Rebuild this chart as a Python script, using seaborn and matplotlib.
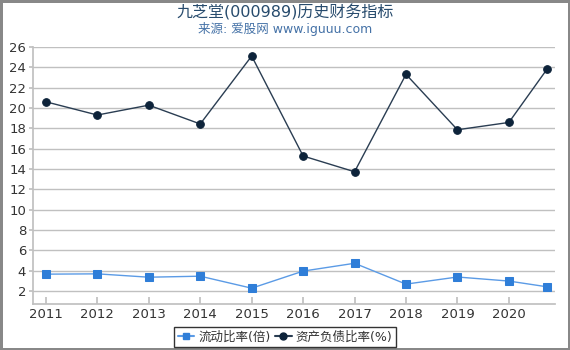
import matplotlib
matplotlib.use("Agg")
import matplotlib.pyplot as plt
import seaborn as sns
import pandas as pd
from matplotlib.lines import Line2D

years = [2011, 2012, 2013, 2014, 2015, 2016, 2017, 2018, 2019, 2020, 2020.75]
tick_years = [2011, 2012, 2013, 2014, 2015, 2016, 2017, 2018, 2019, 2020]
current_ratio = [3.65, 3.68, 3.35, 3.45, 2.27, 3.95, 4.72, 2.67, 3.37, 2.97, 2.4]
debt_ratio = [20.6, 19.3, 20.27, 18.42, 25.1, 15.27, 13.72, 23.3, 17.85, 18.57, 23.87]
y_ticks = [2, 4, 6, 8, 10, 12, 14, 16, 18, 20, 22, 24, 26]
name_cr = "流动比率(倍)"
name_dr = "资产负债比率(%)"
title = "九芝堂(000989)历史财务指标"
subtitle = "来源: 爱股网 www.iguuu.com"

sns.set_theme(style="white")
plt.rcParams['font.family'] = ['DejaVu Sans', 'Noto Sans CJK SC']

df = pd.DataFrame({
    "x": years * 2,
    "y": current_ratio + debt_ratio,
    "series": [name_cr] * len(years) + [name_dr] * len(years),
})

c_cr = "#2f7ed8"
c_dr = "#0d233a"

fig = plt.figure(figsize=(5.7, 3.5), dpi=100)
ax = fig.add_axes([0.058, 0.131, 0.916, 0.735])

for name, col, mk, lc, ms in [(name_cr, c_cr, "s", "#5b9be6", 5.5), (name_dr, c_dr, "o", "#2a3d52", 5.5)]:
    sub = df[df.series == name]
    sns.lineplot(data=sub, x="x", y="y", ax=ax, color=lc, linewidth=1.0,
                 marker=mk, markersize=ms, markerfacecolor=col,
                 markeredgecolor=col, legend=False)

ax.set_xlim(2010.75, 2020.9)
ax.set_ylim(0.7, 26)
ax.set_xticks(tick_years)
ax.set_xticklabels([str(y) for y in tick_years])
ax.set_yticks(y_ticks)
ax.set_xlabel("")
ax.set_ylabel("")
ax.grid(axis="y", color="#c0c0c0", linewidth=1)
ax.grid(axis="x", visible=False)
for s in ["top", "right"]:
    ax.spines[s].set_visible(False)
ax.spines["left"].set_color("#c0c0c0")
ax.spines["bottom"].set_color("#c0c0c0")
ax.tick_params(axis="x", direction="in", length=5, color="#c0c0c0",
               labelsize=9.5, labelcolor="#333333", pad=3, bottom=True)
ax.tick_params(axis="y", direction="out", length=3, color="#c0c0c0",
               labelsize=9.5, labelcolor="#333333", pad=2, left=True)

fig.text(0.5, 0.965, title, ha="center", va="center", fontsize=11.5, color="#274b6d")
fig.text(0.5, 0.918, subtitle, ha="center", va="center", fontsize=9, color="#4572a7")

handles = [
    Line2D([0], [0], color="#5b9be6", marker="s", markerfacecolor=c_cr,
           markeredgecolor=c_cr, markersize=5, linewidth=1.5),
    Line2D([0], [0], color="#2a3d52", marker="o", markerfacecolor=c_dr,
           markeredgecolor=c_dr, markersize=5, linewidth=1.5),
]
leg = fig.legend(handles, [name_cr, name_dr], loc="center", bbox_to_anchor=(0.5, 0.037),
                 ncol=2, frameon=True, fontsize=9, handlelength=1.3, handletextpad=0.3,
                 columnspacing=0.4, borderpad=0.3, borderaxespad=0.2, fancybox=False)
leg.get_frame().set_edgecolor("black")
leg.get_frame().set_linewidth(1.0)
for t in leg.get_texts():
    t.set_color("#333333")

fig.patch.set_edgecolor("#888888")
fig.patch.set_linewidth(2.5)

fig.savefig("out.png", dpi=100, edgecolor=fig.get_edgecolor())
